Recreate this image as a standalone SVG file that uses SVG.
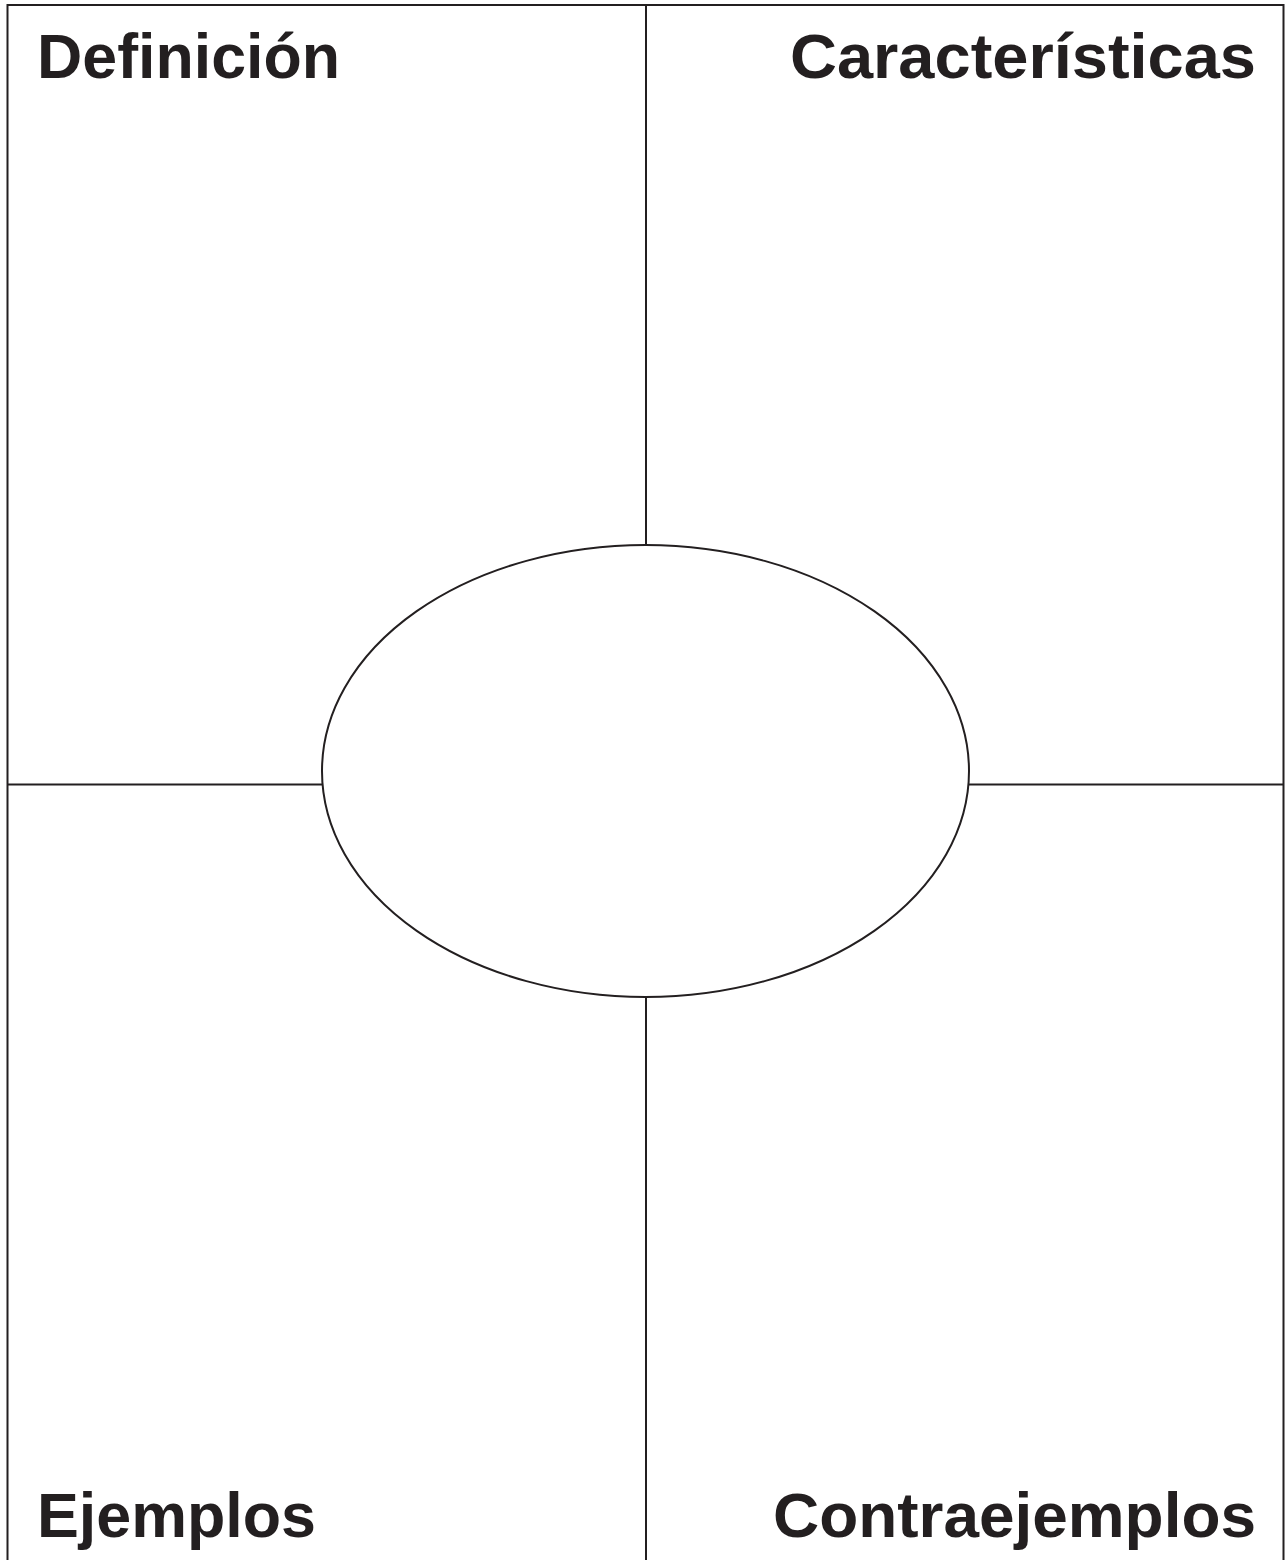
<svg xmlns="http://www.w3.org/2000/svg" width="1288" height="1560" viewBox="0 0 1288 1560">
<style>
.ln{stroke:#231f20;stroke-width:2;fill:none}
.lbl{font-family:"Liberation Sans",Arial,sans-serif;font-weight:bold;font-size:63px;fill:#231f20}
</style>
<rect width="1288" height="1560" fill="#ffffff"/>
<g id="connectors">
<path class="ln" d="M7.5,1560 V5 H1283.5 V1560"/>
<line class="ln" x1="646" y1="5" x2="646" y2="545"/>
<line class="ln" x1="646" y1="997" x2="646" y2="1560"/>
<line class="ln" x1="7.5" y1="784.5" x2="322" y2="784.5"/>
<line class="ln" x1="969" y1="784.5" x2="1283.5" y2="784.5"/>
</g>
<g id="center">
<ellipse class="ln" cx="645.5" cy="771" rx="323.5" ry="226"/>
</g>
<g id="definicion">
<text class="lbl" x="37" y="78" textLength="303" lengthAdjust="spacingAndGlyphs">Definición</text>
</g>
<g id="caracteristicas">
<text class="lbl" x="790" y="78" textLength="466" lengthAdjust="spacingAndGlyphs">Características</text>
</g>
<g id="ejemplos">
<text class="lbl" x="37" y="1537" textLength="279" lengthAdjust="spacingAndGlyphs">Ejemplos</text>
</g>
<g id="contraejemplos">
<text class="lbl" x="773" y="1537" textLength="483" lengthAdjust="spacingAndGlyphs">Contraejemplos</text>
</g>
</svg>
